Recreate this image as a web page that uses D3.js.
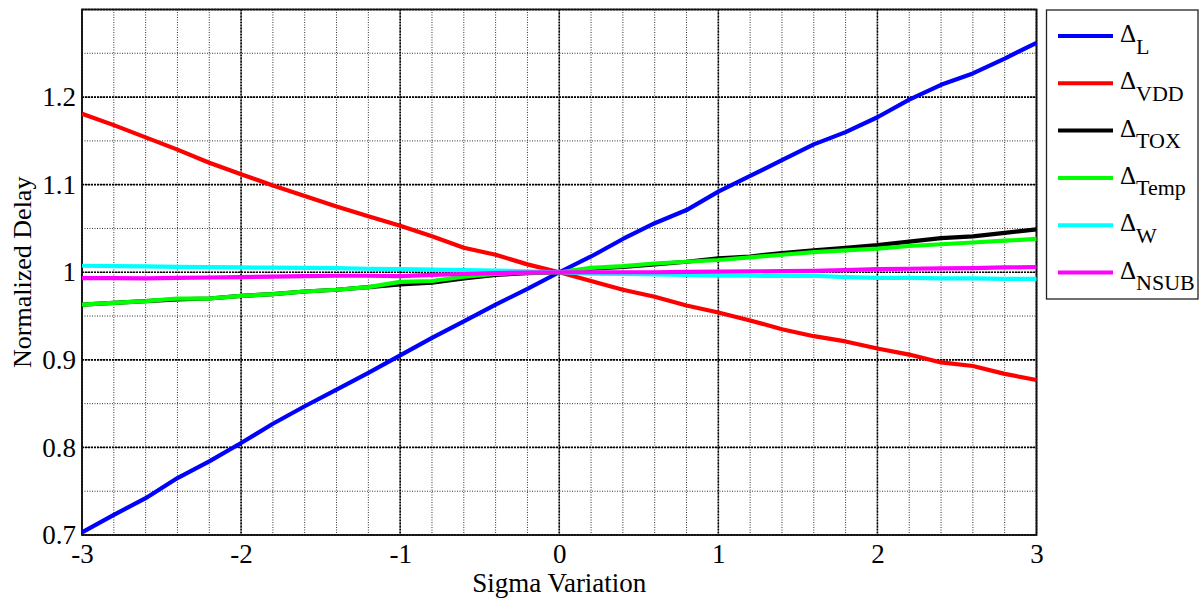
<!DOCTYPE html>
<html>
<head>
<meta charset="utf-8">
<script src="https://cdn.jsdelivr.net/npm/d3@7"></script>
<style>
  body { margin: 0; background: #fff; }
  svg { font-family: "Liberation Serif", "Times New Roman", serif; }
</style>
</head>
<body>
<svg width="1200" height="601"></svg>
<script>
// sigma steps
var sigma = [-3, -2.8, -2.6, -2.4, -2.2, -2, -1.8, -1.6, -1.4, -1.2, -1, -0.8, -0.6, -0.4, -0.2, 0,
             0.2, 0.4, 0.6, 0.8, 1, 1.2, 1.4, 1.6, 1.8, 2, 2.2, 2.4, 2.6, 2.8, 3];

var dL    = [0.703, 0.723, 0.742, 0.765, 0.784, 0.805, 0.827, 0.847, 0.866, 0.885, 0.905, 0.925, 0.944, 0.963, 0.981, 1.000,
             1.018, 1.038, 1.056, 1.071, 1.092, 1.110, 1.128, 1.146, 1.160, 1.177, 1.197, 1.214, 1.227, 1.244, 1.262];
var dVDD  = [1.181, 1.168, 1.154, 1.140, 1.125, 1.112, 1.099, 1.087, 1.075, 1.064, 1.053, 1.041, 1.028, 1.020, 1.009, 1.000,
             0.990, 0.980, 0.972, 0.962, 0.954, 0.945, 0.935, 0.927, 0.921, 0.913, 0.906, 0.897, 0.893, 0.884, 0.877];
var dTOX  = [0.963, 0.965, 0.967, 0.969, 0.970, 0.973, 0.975, 0.978, 0.980, 0.983, 0.986, 0.988, 0.993, 0.997, 0.999, 1.000,
             1.004, 1.006, 1.009, 1.012, 1.016, 1.018, 1.022, 1.025, 1.028, 1.031, 1.035, 1.039, 1.041, 1.045, 1.049];
var dTemp = [0.963, 0.965, 0.967, 0.970, 0.970, 0.973, 0.975, 0.978, 0.980, 0.983, 0.989, 0.990, 0.995, 0.998, 0.9995, 1.000,
             1.005, 1.007, 1.010, 1.012, 1.014, 1.017, 1.020, 1.023, 1.025, 1.027, 1.030, 1.032, 1.034, 1.036, 1.038];
var dW    = [1.0074, 1.007, 1.0066, 1.0062, 1.0058, 1.0055, 1.0052, 1.005, 1.0046, 1.004, 1.0036, 1.003, 1.0025, 1.002, 1.001, 1.000,
             0.9985, 0.998, 0.9975, 0.997, 0.996, 0.996, 0.9958, 0.996, 0.9945, 0.9935, 0.9935, 0.993, 0.993, 0.9925, 0.9925];
var dNSUB = [0.9933, 0.9933, 0.993, 0.9935, 0.994, 0.9945, 0.995, 0.9955, 0.996, 0.996, 0.9955, 0.997, 0.998, 0.999, 0.9995, 1.000,
             1.000, 1.000, 1.000, 1.0005, 1.0008, 1.001, 1.0013, 1.0015, 1.0025, 1.0036, 1.004, 1.0045, 1.0048, 1.0055, 1.006];

var seriesNames = ["L", "VDD", "TOX", "Temp", "W", "NSUB"];
var seriesColors = ["#0000ff", "#ff0000", "#000000", "#00ff00", "#00ffff", "#ff00ff"];
var seriesValues = [dL, dVDD, dTOX, dTemp, dW, dNSUB];

var xTicks = [-3, -2, -1, 0, 1, 2, 3];
var yTicks = [0.7, 0.8, 0.9, 1, 1.1, 1.2];

var svg = d3.select("svg"),
    mLeft = 82, mRight = 1036.5, mTop = 9.5, mBottom = 535;

var xScale = d3.scaleLinear([-3, 3], [mLeft, mRight]);
var yScale = d3.scaleLinear([0.7, 1.3], [mBottom, mTop]);

// minor grid
var g = svg.append("g");
d3.range(-3, 3.001, 0.2).forEach(function(s){
    g.append("line")
        .attr("x1", xScale(s)).attr("x2", xScale(s))
        .attr("y1", mTop).attr("y2", mBottom)
        .attr("stroke", "#333").attr("stroke-width", 1).attr("stroke-dasharray", "1,1.5");
});
d3.range(0.7, 1.3001, 0.05).forEach(function(v){
    g.append("line")
        .attr("x1", mLeft).attr("x2", mRight)
        .attr("y1", yScale(v)).attr("y2", yScale(v))
        .attr("stroke", "#333").attr("stroke-width", 1).attr("stroke-dasharray", "1,1.5");
});

// major grid
xTicks.forEach(function(s){
    g.append("line")
        .attr("x1", xScale(s)).attr("x2", xScale(s))
        .attr("y1", mTop).attr("y2", mBottom)
        .attr("stroke", "#000").attr("stroke-width", 1.6).attr("stroke-dasharray", "2,1");
});
yTicks.concat([1.3]).forEach(function(v){
    g.append("line")
        .attr("x1", mLeft).attr("x2", mRight)
        .attr("y1", yScale(v)).attr("y2", yScale(v))
        .attr("stroke", "#000").attr("stroke-width", 1.6).attr("stroke-dasharray", "2,1");
});

// axes box
svg.append("rect")
    .attr("x", mLeft).attr("y", mTop)
    .attr("width", mRight - mLeft).attr("height", mBottom - mTop)
    .attr("fill", "none").attr("stroke", "#111").attr("stroke-width", 1.8);

// tick labels
svg.append("g").attr("transform", "translate(0," + mBottom + ")")
    .call(d3.axisBottom(xScale).tickValues(xTicks).tickSize(0).tickPadding(9).tickFormat(function(d){ return String(d); }))
    .call(g => g.select(".domain").remove())
    .selectAll("text").attr("font-size", 27).attr("font-family", "Liberation Serif").attr("fill", "#000");

svg.append("g").attr("transform", "translate(" + mLeft + ",0)")
    .call(d3.axisLeft(yScale).tickValues(yTicks).tickSize(0).tickPadding(6).tickFormat(function(d){ return String(+d.toFixed(1)); }))
    .call(g => g.select(".domain").remove())
    .selectAll("text").attr("font-size", 27).attr("font-family", "Liberation Serif").attr("fill", "#000");

// axis titles
svg.append("text")
    .attr("x", (mLeft + mRight) / 2).attr("y", 592)
    .attr("text-anchor", "middle").attr("font-size", 27)
    .text("Sigma Variation");

svg.append("text")
    .attr("transform", "translate(31," + ((mTop + mBottom) / 2) + ") rotate(-90)")
    .attr("text-anchor", "middle").attr("font-size", 26)
    .text("Normalized Delay");

// lines
var line = d3.line()
    .x(function(d){ return xScale(d[0]); })
    .y(function(d){ return yScale(d[1]); });

seriesValues.forEach(function(vals, i){
    svg.append("path")
        .datum(d3.zip(sigma, vals))
        .attr("d", line)
        .attr("fill", "none")
        .attr("stroke", seriesColors[i])
        .attr("stroke-width", 4.2)
        .attr("stroke-linejoin", "round");
});

// legend
var leg = svg.append("g");
leg.append("rect")
    .attr("x", 1046.5).attr("y", 10).attr("width", 151.5).attr("height", 289)
    .attr("fill", "#fff").attr("stroke", "#222").attr("stroke-width", 1.3);

seriesNames.forEach(function(name, i){
    var y = 36 + i * 47.3;
    leg.append("line")
        .attr("x1", 1058).attr("x2", 1113).attr("y1", y).attr("y2", y)
        .attr("stroke", seriesColors[i]).attr("stroke-width", 4);
    var t = leg.append("text")
        .attr("x", 1120).attr("y", y + 6);
    t.append("tspan").attr("font-size", 25).text("\u0394");
    t.append("tspan").attr("font-size", 22).attr("dy", 11.5).text(name);
});
</script>
</body>
</html>
